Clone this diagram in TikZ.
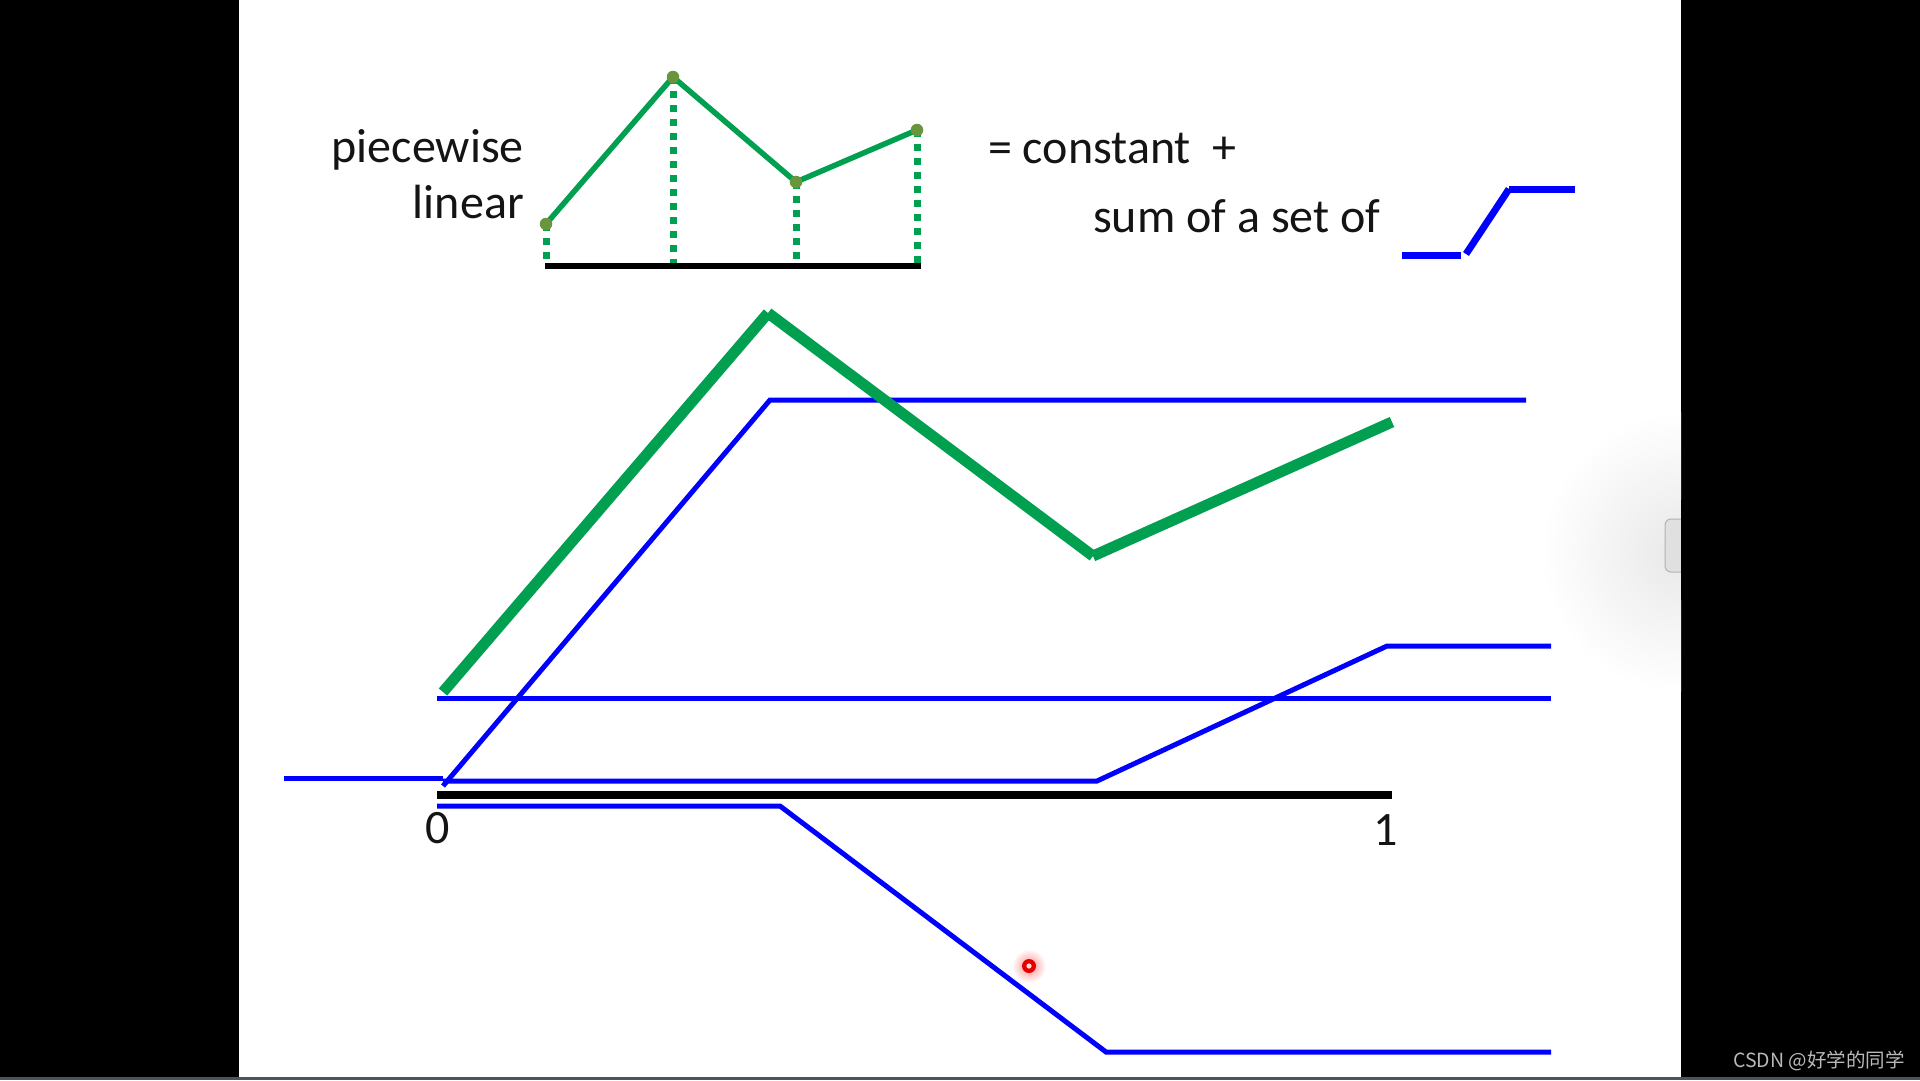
\documentclass[tikz,border=0pt]{standalone}
\usepackage{fontspec}
\setmainfont{Carlito}
\newfontfamily\cjk{Noto Sans CJK SC}
\definecolor{pgreen}{RGB}{0,160,80}
\definecolor{pdot}{RGB}{105,150,60}
\definecolor{pblue}{RGB}{0,0,255}
\definecolor{wm}{RGB}{185,185,185}
\definecolor{strip}{RGB}{75,85,95}
\begin{document}
\begin{tikzpicture}[x=1pt,y=-1pt,
  lbl/.style={inner sep=0pt, font=\fontsize{48}{56}\selectfont, text=black!92},
  bl/.style={draw=pblue, line width=5pt},
  gthick/.style={draw=pgreen, line width=11pt, line cap=butt},
  gthin/.style={draw=pgreen, line width=5.5pt},
  gdots/.style={draw=pgreen, line width=7pt, dash pattern=on 7pt off 7pt, line cap=butt},
  axisline/.style={draw=black, line width=7.5pt},
  iconline/.style={draw=pblue, line width=7pt, line cap=butt},
  pt/.style={circle, fill=pdot, inner sep=0pt, minimum size=12.5pt}]
% background
\fill[black] (0,0) rectangle (1920,1080);
\fill[white] (239,0) rectangle (1681,1077);
\fill[strip] (0,1077) rectangle (1920,1080);
% soft shadow and side tab
\begin{scope}
  \clip (1500,380) rectangle (1681,720);
  \shade[inner color=black!9, outer color=white] (1681,552) circle (140);
\end{scope}
\filldraw[fill=black!12, draw=black!30, line width=1pt, rounded corners=6pt] (1665,519) rectangle (1700,572);
\fill[black] (1681,500) rectangle (1710,600);

% ---------- top small chart ----------
\coordinate (p1) at (546,224);
\coordinate (p2) at (673,77);
\coordinate (p3) at (796,182);
\coordinate (p4) at (917,130);
\coordinate (b1) at (546,266);
\coordinate (b2) at (673,266);
\coordinate (b3) at (796,266);
\coordinate (b4) at (917,266);
\coordinate (bl) at (545,266);
\coordinate (br) at (921,266);
\draw[gdots] (p1) -- (b1);
\draw[gdots] (p2) -- (b2);
\draw[gdots] (p3) -- (b3);
\draw[gdots] (p4) -- (b4);
\draw[draw=black, line width=6.5pt] (bl) -- (br);
\draw[gthin] (p1) -- (p2) -- (p3) -- (p4);
\node[pt] (d1) at (p1) {};
\node[pt] (d2) at (p2) {};
\node[pt] (d3) at (p3) {};
\node[pt] (d4) at (p4) {};

\node[lbl, anchor=base east] (tpw) at (524,162) {piecewise};
\node[lbl, anchor=base east] (tlin) at (524,218) {linear};
\node[lbl, anchor=base west] (tcon) at (988,163) {= constant\ \ +};
\node[lbl, anchor=base west] (tsum) at (1093,232) {sum of a set of};

% small step icon
\coordinate (i1) at (1402,255);
\coordinate (i2) at (1461,255);
\coordinate (i3) at (1466,254);
\coordinate (i4) at (1509,189);
\coordinate (i5) at (1575,189);
\draw[iconline] (i1) -- (i2);
\draw[iconline] (i3) -- (i4);
\draw[iconline] (i4) -- (i5);

% ---------- main chart ----------
% blue curve 1 (rises to top)
\coordinate (c1a) at (443,786);
\coordinate (c1b) at (770,400);
\coordinate (c1c) at (1526,400);
\draw[bl] (c1a) -- (c1b) -- (c1c);
% constant line
\coordinate (k1) at (437,698);
\coordinate (k2) at (1551,698);
\draw[bl] (k1) -- (k2);
% blue curve 2
\coordinate (c2l) at (284,778);
\coordinate (c2m) at (443,778);
\coordinate (c2a) at (443,781);
\coordinate (c2b) at (1097,781);
\coordinate (c2c) at (1387,646);
\coordinate (c2d) at (1551,646);
\draw[bl] (c2l) -- (c2m);
\draw[bl] (c2a) -- (c2b) -- (c2c) -- (c2d);
% blue curve 3 (goes down)
\coordinate (c3a) at (437,806);
\coordinate (c3b) at (780,806);
\coordinate (c3c) at (1106,1052);
\coordinate (c3d) at (1551,1052);
\draw[bl] (c3a) -- (c3b) -- (c3c) -- (c3d);
% axis
\coordinate (ax0) at (437,795);
\coordinate (ax1) at (1392,795);
\draw[axisline] (ax0) -- (ax1);
\node[lbl, anchor=base] (n0) at (437.5,843) {0};
\node[lbl, anchor=base] (n1) at (1386,845) {1};
% green thick piecewise curve
\coordinate (g1) at (443,692);
\coordinate (g2) at (768,313);
\coordinate (g3) at (1093,556);
\coordinate (g4) at (1392,422);
\draw[gthick] (g1) -- (g2);
\draw[gthick] (g2) -- (g3);
\draw[gthick] (g3) -- (g4);

% cursor dot
\shade[inner color=red!45, outer color=white] (1029,966) circle (17);
\fill[red!90!black] (1029,966) circle (7);
\fill[red!15] (1029,966) circle (2.6);

% watermark
\node[inner sep=0pt, anchor=base west, text=wm, font=\cjk\fontsize{19.5}{22}\selectfont] (wmk) at (1733,1067) {CSDN @好学的同学};
\end{tikzpicture}
\end{document}
